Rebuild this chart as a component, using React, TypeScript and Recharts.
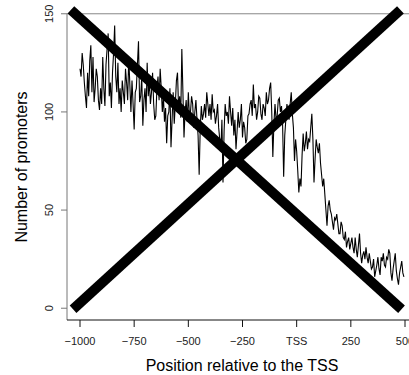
import { LineChart, Line, XAxis, YAxis, ReferenceLine } from "recharts";

const positions = [
  -1000, -995, -990, -985, -980, -975, -970, -965, -960, -955, -950, -945, -940, -935, -930, -925, -920, -915, -910, -905,
  -900, -895, -890, -885, -880, -875, -870, -865, -860, -855, -850, -845, -840, -835, -830, -825, -820, -815, -810, -805,
  -800, -795, -790, -785, -780, -775, -770, -765, -760, -755, -750, -745, -740, -735, -730, -725, -720, -715, -710, -705,
  -700, -695, -690, -685, -680, -675, -670, -665, -660, -655, -650, -645, -640, -635, -630, -625, -620, -615, -610, -605,
  -600, -595, -590, -585, -580, -575, -570, -565, -560, -555, -550, -545, -540, -535, -530, -525, -520, -515, -510, -505,
  -500, -495, -490, -485, -480, -475, -470, -465, -460, -455, -450, -445, -440, -435, -430, -425, -420, -415, -410, -405,
  -400, -395, -390, -385, -380, -375, -370, -365, -360, -355, -350, -345, -340, -335, -330, -325, -320, -315, -310, -305,
  -300, -295, -290, -285, -280, -275, -270, -265, -260, -255, -250, -245, -240, -235, -230, -225, -220, -215, -210, -205,
  -200, -195, -190, -185, -180, -175, -170, -165, -160, -155, -150, -145, -140, -135, -130, -125, -120, -115, -110, -105,
  -100, -95, -90, -85, -80, -75, -70, -65, -60, -55, -50, -45, -40, -35, -30, -25, -20, -15, -10, -5,
  0, 5, 10, 15, 20, 25, 30, 35, 40, 45, 50, 55, 60, 65, 70, 75, 80, 85, 90, 95,
  100, 105, 110, 115, 120, 125, 130, 135, 140, 145, 150, 155, 160, 165, 170, 175, 180, 185, 190, 195,
  200, 205, 210, 215, 220, 225, 230, 235, 240, 245, 250, 255, 260, 265, 270, 275, 280, 285, 290, 295,
  300, 305, 310, 315, 320, 325, 330, 335, 340, 345, 350, 355, 360, 365, 370, 375, 380, 385, 390, 395,
  400, 405, 410, 415, 420, 425, 430, 435, 440, 445, 450, 455, 460, 465, 470, 475, 480, 485, 490, 495,
];

const promoters = [
  122, 118, 130, 124, 115, 108, 102, 120, 108, 126, 134, 110, 128, 105, 112, 122, 118, 106, 101, 112,
  104, 128, 112, 103, 124, 132, 140, 108, 115, 102, 120, 130, 144, 118, 110, 125, 104, 112, 100, 116,
  110, 104, 122, 115, 106, 128, 114, 100, 116, 104, 91, 110, 112, 124, 136, 105, 108, 118, 93, 106,
  112, 100, 125, 108, 116, 104, 110, 120, 104, 96, 98, 112, 118, 106, 122, 112, 100, 108, 95, 102,
  84, 98, 100, 112, 82, 96, 110, 94, 104, 116, 120, 102, 108, 97, 132, 110, 87, 100, 106, 95,
  110, 98, 100, 108, 104, 92, 100, 106, 96, 88, 68, 92, 103, 96, 99, 104, 97, 110, 104, 98,
  104, 96, 109, 100, 101, 94, 98, 104, 92, 86, 80, 96, 64, 90, 104, 98, 100, 94, 108, 100,
  93, 102, 88, 96, 81, 90, 100, 92, 96, 104, 87, 95, 92, 84, 86, 98, 99, 104, 106, 98,
  114, 102, 104, 96, 100, 108, 107, 99, 96, 104, 102, 98, 110, 104, 106, 112, 115, 100, 77, 94,
  104, 96, 98, 106, 107, 100, 103, 94, 67, 88, 96, 104, 101, 96, 104, 110, 99, 92, 75, 86,
  80, 70, 59, 66, 62, 78, 89, 80, 84, 90, 81, 86, 85, 92, 99, 86, 64, 76, 86, 82,
  79, 84, 74, 68, 62, 66, 58, 50, 42, 52, 55, 50, 48, 44, 40, 46, 45, 48, 43, 38,
  38, 44, 42, 36, 35, 39, 31, 34, 36, 30, 33, 36, 31, 28, 36, 30, 26, 32, 38, 28,
  23, 27, 29, 25, 31, 26, 23, 28, 24, 20, 21, 25, 16, 19, 22, 26, 20, 17, 26, 24,
  28, 22, 21, 26, 25, 30, 28, 18, 14, 20, 24, 28, 19, 15, 12, 18, 21, 24, 18, 16,
];

const xTicks = [-1000, -750, -500, -250, 0, 250, 500];
const yTicks = [0, 50, 100, 150];

// the big cross drawn over the plot
const crossA = [{ x: -1042, y: 152 }, { x: 484, y: -0.5 }];
const crossB = [{ x: -1032, y: -0.5 }, { x: 479, y: 152 }];

const data = positions.map((pos, i) => ({ pos, n: promoters[i] }));

const font = "'Liberation Sans', Arial, sans-serif";

const xLabel = (v: number) => (v === 0 ? "TSS" : v < 0 ? "\u2212" + Math.abs(v) : String(v));

function XTick({ x, payload }: any) {
  return (
    <text x={x} y={345} textAnchor="middle" fontSize={11} fill="#222" fontFamily={font}>
      {xLabel(payload.value)}
    </text>
  );
}

function YTick({ y, payload }: any) {
  return (
    <text
      x={53}
      y={y}
      transform={`rotate(-90, 53, ${y})`}
      textAnchor="middle"
      fontSize={11}
      fill="#222"
      fontFamily={font}
    >
      {payload.value}
    </text>
  );
}

export default function App() {
  return (
    <div style={{ position: "absolute", left: 0, top: 0, width: 409, height: 375, overflow: "hidden", background: "#fff" }}>
      <LineChart width={418} height={375} data={data} margin={{ top: 2, right: 0, bottom: 0, left: 0 }}>
        <XAxis
          dataKey="pos"
          type="number"
          domain={[-1060, 560]}
          ticks={xTicks}
          tickSize={7}
          height={55}
          stroke="#111"
          tickLine={{ stroke: "#111" }}
          tick={<XTick />}
        />
        <YAxis
          type="number"
          domain={[-6, 156]}
          ticks={yTicks}
          width={67}
          tickSize={6}
          axisLine={false}
          tickLine={{ stroke: "#777" }}
          tick={<YTick />}
        />
        <ReferenceLine y={150} stroke="#888" strokeWidth={1} />
        <ReferenceLine segment={[{ x: -1060, y: -6 }, { x: -1060, y: 150 }]} stroke="#777" strokeWidth={1} ifOverflow="visible" />
        <Line dataKey="n" stroke="#000" strokeWidth={1.1} dot={false} isAnimationActive={false} />
        <ReferenceLine segment={crossA} stroke="#000" strokeWidth={10} ifOverflow="visible" />
        <ReferenceLine segment={crossB} stroke="#000" strokeWidth={10} ifOverflow="visible" />
      </LineChart>
      <svg width={409} height={375} style={{ position: "absolute", left: 0, top: 0, pointerEvents: "none" }}>
        <text x={242} y={371} textAnchor="middle" fontSize={16} fill="#000" fontFamily={font}>
          Position relative to the TSS
        </text>
        <text x={27} y={167} transform="rotate(-90, 27, 167)" textAnchor="middle" fontSize={16} fill="#000" fontFamily={font}>
          Number of promoters
        </text>
      </svg>
    </div>
  );
}
